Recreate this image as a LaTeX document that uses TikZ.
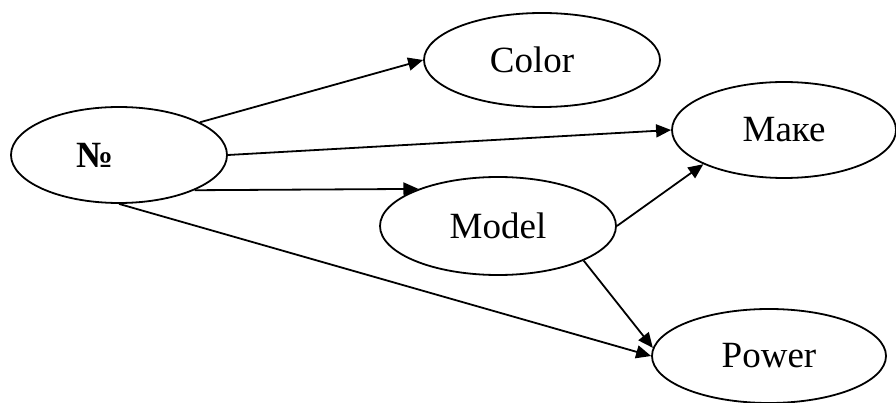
\documentclass[tikz,border=0pt]{standalone}
\usepackage{fontspec}
\setmainfont{Liberation Serif}
\usetikzlibrary{shapes.geometric,arrows.meta}

\tikzset{
  entity/.style={ellipse, draw, line width=1.8pt, inner sep=0pt,
    font=\fontsize{37}{40}\selectfont},
  link/.style={line width=1.8pt, -{Triangle[length=15pt,width=13pt]}}
}

\begin{document}
\begin{tikzpicture}[x=1pt, y=-1pt]
  \useasboundingbox (0,0) rectangle (896,403);

  % entities
  \node[entity, minimum width=216pt, minimum height=96pt] (num)   at (119,155) {\textbf{№}\kern48pt};
  \node[entity, minimum width=236pt, minimum height=94pt] (color) at (542,60)  {Color\kern20pt};
  \node[entity, minimum width=224pt, minimum height=96pt] (make)  at (784,130) {Маке};
  \node[entity, minimum width=236pt, minimum height=98pt] (model) at (498,226) {Model};
  \node[entity, minimum width=234pt, minimum height=94pt] (power) at (769,356) {Power};

  % relations
  \draw[link] (num.22.7)  -- (color.west);
  \draw[link] (num.east)  -- (make.west);
  \draw[link] (num.-25)   -- (model.155.8);
  \draw[link] (num.south) -- (power.180);
  \draw[link] (model.east) -- (make.203);
  \draw[link] (model.-22) -- (power.176);
\end{tikzpicture}
\end{document}
